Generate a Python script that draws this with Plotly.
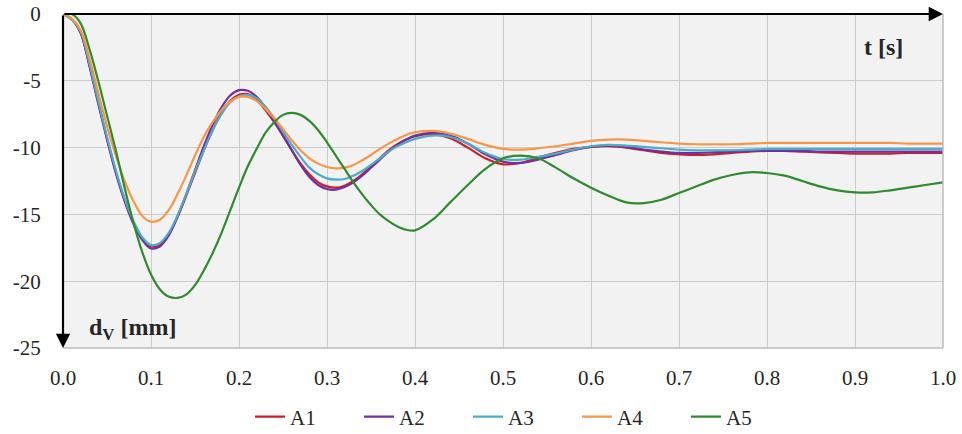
import plotly.graph_objects as go

# time axis: 0.01 s steps up to 0.40 s, then 0.02 s steps up to 1.0 s
t = [round(0.01 * i, 2) for i in range(41)] + [round(0.42 + 0.02 * i, 2) for i in range(30)]

A1 = [0, -0.4, -1.4, -3.8, -6.6, -9.3, -11.8, -13.9, -15.6, -16.8,
      -17.4, -17.3, -16.5, -15.2, -13.6, -11.9, -10.2, -8.7, -7.4, -6.5,
      -6.05, -6.0, -6.4, -7.2, -8.1, -9.1, -10.2, -11.2, -12.0, -12.6,
      -12.9, -13.0, -12.85, -12.5, -12.0, -11.4, -10.8, -10.2, -9.75, -9.4,
      -9.15,
      -9.0, -9.3, -10.0, -10.8, -11.25, -11.15, -10.75, -10.4, -10.1, -9.95,
      -9.9, -10.0, -10.2, -10.4, -10.5, -10.55, -10.5, -10.4, -10.3, -10.25,
      -10.25, -10.3, -10.35, -10.4, -10.45, -10.45, -10.45, -10.4, -10.4, -10.4]
A2 = [0, -0.4, -1.4, -3.9, -6.7, -9.4, -11.9, -14.0, -15.7, -16.9,
      -17.55, -17.4, -16.6, -15.2, -13.5, -11.7, -9.9, -8.3, -7.0, -6.1,
      -5.7, -5.75, -6.2, -7.0, -8.0, -9.1, -10.2, -11.3, -12.2, -12.8,
      -13.1, -13.15, -12.95, -12.6, -12.1, -11.5, -10.9, -10.3, -9.8, -9.4,
      -9.1,
      -8.9, -9.1, -9.7, -10.5, -11.05, -11.15, -10.9, -10.55, -10.2, -9.95,
      -9.85, -9.95, -10.15, -10.3, -10.4, -10.4, -10.35, -10.3, -10.25, -10.25,
      -10.25, -10.25, -10.3, -10.3, -10.3, -10.3, -10.3, -10.3, -10.3, -10.3]
A3 = [0, -0.4, -1.3, -3.7, -6.5, -9.2, -11.7, -13.8, -15.5, -16.7,
      -17.3, -17.15, -16.4, -15.1, -13.5, -11.8, -10.2, -8.7, -7.5, -6.6,
      -6.15, -6.05, -6.3, -6.95, -7.8, -8.8, -9.8, -10.7, -11.5, -12.0,
      -12.3, -12.4, -12.35, -12.1, -11.75, -11.3, -10.8, -10.3, -9.9, -9.6,
      -9.35,
      -9.1, -9.2, -9.7, -10.4, -10.85, -10.9, -10.7, -10.45, -10.15, -9.9,
      -9.8, -9.85, -9.95, -10.05, -10.15, -10.2, -10.2, -10.2, -10.15, -10.1,
      -10.1, -10.1, -10.1, -10.1, -10.1, -10.1, -10.1, -10.1, -10.1, -10.1]
A4 = [0, -0.35, -1.2, -3.3, -5.9, -8.4, -10.6, -12.5, -14.0, -15.1,
      -15.55, -15.4, -14.7, -13.5, -12.1, -10.6, -9.2, -8.1, -7.2, -6.55,
      -6.2, -6.2, -6.5, -7.1, -7.8, -8.6, -9.45, -10.2, -10.8, -11.2,
      -11.45, -11.55, -11.5, -11.3, -10.95, -10.55, -10.1, -9.7, -9.35, -9.05,
      -8.85,
      -8.75, -8.95, -9.35, -9.8, -10.1, -10.15, -10.05, -9.9, -9.7, -9.5,
      -9.4, -9.4, -9.5, -9.6, -9.7, -9.75, -9.75, -9.75, -9.7, -9.65,
      -9.65, -9.65, -9.65, -9.65, -9.65, -9.65, -9.65, -9.7, -9.7, -9.7]
A5 = [0, 0, -0.7, -2.6, -5.0, -7.6, -10.2, -13.0, -15.6, -17.8,
      -19.5, -20.6, -21.15, -21.25, -21.0, -20.3, -19.2, -17.9, -16.4, -14.7,
      -13.0, -11.4, -10.1, -8.9, -8.1, -7.55, -7.4, -7.55, -8.0, -8.7,
      -9.6, -10.6, -11.6, -12.6, -13.5, -14.3, -15.0, -15.5, -15.9, -16.15,
      -16.2,
      -15.4, -14.1, -12.8, -11.6, -10.8, -10.6, -10.8, -11.5, -12.3, -13.0,
      -13.6, -14.1, -14.15, -13.9, -13.4, -12.9, -12.4, -12.05, -11.85, -11.9,
      -12.1, -12.5, -12.9, -13.2, -13.35, -13.35, -13.2, -13.0, -12.8, -12.6]

names = ["A1", "A2", "A3", "A4", "A5"]
series = [A1, A2, A3, A4, A5]
colors = ["#cc1f2b", "#7030a0", "#4bacc6", "#f79646", "#2e8b2e"]

x_ticks = [round(0.1 * i, 1) for i in range(11)]
y_ticks = [0, -5, -10, -15, -20, -25]

FONT = "Liberation Serif, Times New Roman, serif"

fig = go.Figure()
for n, s, c in zip(names, series, colors):
    fig.add_trace(go.Scatter(x=t, y=s, name=n, mode="lines",
                             line=dict(color=c, width=2.2, shape="spline", smoothing=1.0)))

fig.update_layout(
    width=962, height=434,
    margin=dict(l=63, r=19, t=14, b=86, autoexpand=False),
    paper_bgcolor="white",
    plot_bgcolor="#f2f2f2",
    font=dict(family=FONT, size=21, color="#262626"),
    legend=dict(orientation="h", x=0.2125, xanchor="left",
                y=1 - 417 / 434, yanchor="middle", yref="container",
                font=dict(family=FONT, size=21, color="#262626"),
                entrywidth=64, entrywidthmode="pixels", itemwidth=30,
                bgcolor="rgba(0,0,0,0)"),
    showlegend=True,
)
fig.update_xaxes(range=[0, 1], tickvals=x_ticks, ticktext=[f"{v:.1f}" for v in x_ticks],
                 showgrid=True, gridcolor="#cccccc", gridwidth=1, zeroline=False,
                 ticks="outside", ticklen=11, tickcolor="rgba(0,0,0,0)",
                 showline=False, automargin=False)
fig.update_yaxes(range=[-25, 0], tickvals=y_ticks, ticktext=[str(v) for v in y_ticks],
                 showgrid=True, gridcolor="#cccccc", gridwidth=1, zeroline=False,
                 ticks="outside", ticklen=17, tickcolor="rgba(0,0,0,0)",
                 showline=False, automargin=False)

# border lines (right and bottom)
fig.add_shape(type="line", xref="paper", yref="paper", x0=1, x1=1, y0=0, y1=1,
              line=dict(color="#bdbdbd", width=1.5))
fig.add_shape(type="line", xref="paper", yref="paper", x0=0, x1=1, y0=0, y1=0,
              line=dict(color="#bdbdbd", width=1.5))

# arrowed axes
fig.add_annotation(x=1, y=0, ax=0, ay=0, xref="x", yref="y", axref="x", ayref="y",
                   showarrow=True, arrowhead=2, arrowsize=1.3, arrowwidth=2.2,
                   arrowcolor="black", text="")
fig.add_annotation(x=0, y=-25, ax=0, ay=0, xref="x", yref="y", axref="x", ayref="y",
                   showarrow=True, arrowhead=2, arrowsize=1.3, arrowwidth=2.2,
                   arrowcolor="black", text="")

fig.add_annotation(x=0.932, y=0.902, xref="paper", yref="paper", text="<b>t [s]</b>",
                   showarrow=False, xanchor="center", yanchor="middle",
                   font=dict(family=FONT, size=24, color="#262626"))
fig.add_annotation(x=0.027, y=0.056, xref="paper", yref="paper",
                   text="<b>d<sub>V</sub> [mm]</b>",
                   showarrow=False, xanchor="left", yanchor="middle",
                   font=dict(family=FONT, size=24, color="#262626"))

fig.write_html("out.html")
